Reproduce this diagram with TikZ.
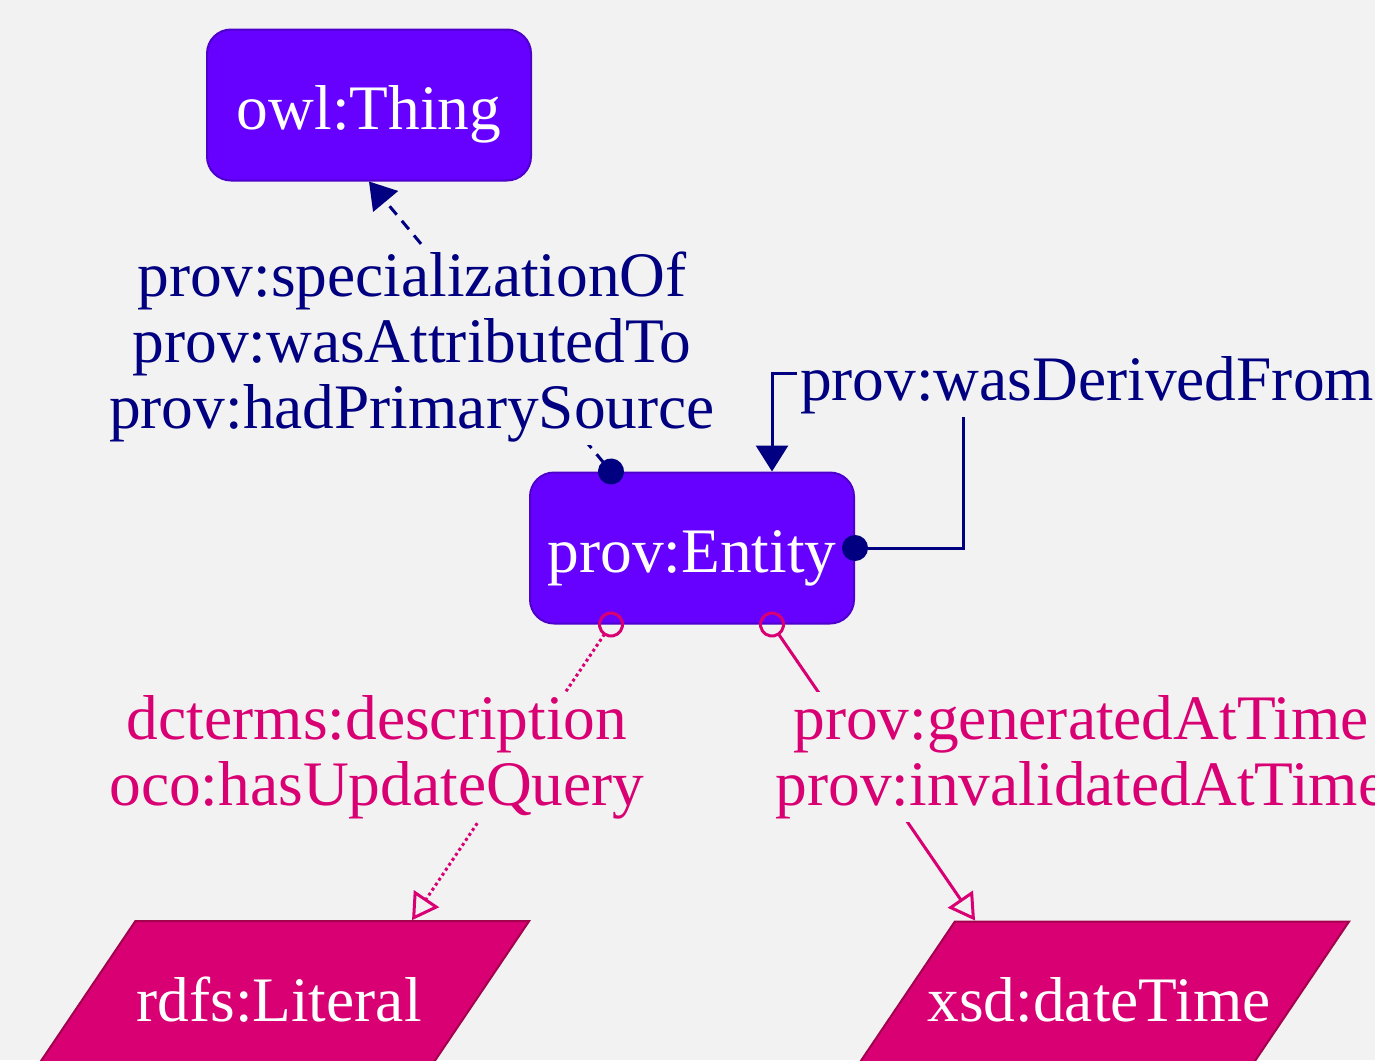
\documentclass[tikz,border=0pt]{standalone}
\usepackage{fontspec}
\setmainfont{Liberation Serif}
\usepackage{xcolor}
\usetikzlibrary{arrows.meta,positioning,shapes.geometric}
\definecolor{bgray}{HTML}{F2F2F2}
\definecolor{clsfill}{HTML}{6600FF}
\definecolor{clsline}{HTML}{4E00CC}
\definecolor{objnavy}{HTML}{000080}
\definecolor{dtpink}{HTML}{D80073}
\definecolor{dtline}{HTML}{A3004E}
% datatype text may run over the slanted sides
\newcommand{\dtname}[1]{\makebox[110pt]{#1}}

\begin{document}
\begin{tikzpicture}[x=0.5pt, y=-0.5pt,
    every node/.style={font=\fontsize{31.7}{33}\selectfont},
    cls/.style={draw=clsline, line width=1pt, fill=clsfill, text=white,
        rounded corners=12pt, minimum width=162pt, minimum height=75.5pt,
        text height=31pt, text depth=7pt},
    dtype/.style={trapezium, trapezium left angle=56, trapezium right angle=124,
        trapezium stretches body=true, draw=dtline, line width=1pt, fill=dtpink,
        text=white, inner ysep=28pt, minimum width=250pt},
    objprop/.style={draw=objnavy, line width=1.5pt},
    dataprop/.style={draw=dtpink, line width=1.5pt},
    lbl/.style={fill=bgray, inner sep=1.5pt, align=center}]
        \useasboundingbox (0,0) rectangle (1375,1060);
        \clip (0,0) rectangle (1375,1060);
        \fill[bgray] (0,0) rectangle (1375,1060);

        % Classes
        \node[cls] (thing) at (369,105) {owl:Thing};
        \node[cls] (ent) at (692,548) {prov:Entity};

        % Datatypes
        \node[dtype] (lit) at (279,1000) {\dtname{rdfs:Literal}};
        \node[dtype] (dt) at (1099,1000) {\dtname{xsd:dateTime}};

        % Object properties
        \draw[objprop, dash pattern=on 5.5pt off 4pt,
            {Circle[length=13pt]}-{Triangle[length=13pt,width=16pt]}, shorten <=-6.5pt]
            ([xshift=-40.5pt]ent.north) -- (thing.south);
        \draw[objprop, {Circle[length=13pt]}-{Triangle[length=13pt,width=16pt]}, shorten <=-6.5pt]
            (ent.east) -- ++(54pt,0) -- ++(0,87.5pt) -| ([xshift=40pt]ent.north);

        % Data properties
        \draw[dataprop, dash pattern=on 1.5pt off 1.5pt,
            {Circle[open,length=13pt]}-{Triangle[open,length=13pt,width=15pt]}, shorten <=-6.5pt]
            ([xshift=-40.5pt]ent.south) -- ([xshift=66.5pt]lit.north);
        \draw[dataprop, {Circle[open,length=13pt]}-{Triangle[open,length=13pt,width=15pt]}, shorten <=-6.5pt]
            ([xshift=40pt]ent.south) -- ([xshift=-62pt]dt.north);

        % Edge labels
        \node[lbl, text=objnavy] (lblent) at (412,347)
            {prov:specializationOf\\prov:wasAttributedTo\\prov:hadPrimarySource};
        \node[lbl, text=objnavy] (lblder) at (1087,385) {prov:wasDerivedFrom};
        \node[lbl, text=dtpink] (lbldesc) at (377,757) {dcterms:description\\oco:hasUpdateQuery};
        \node[lbl, text=dtpink] (lbltime) at (1081,757) {prov:generatedAtTime\\prov:invalidatedAtTime};
    \end{tikzpicture}
\end{document}
